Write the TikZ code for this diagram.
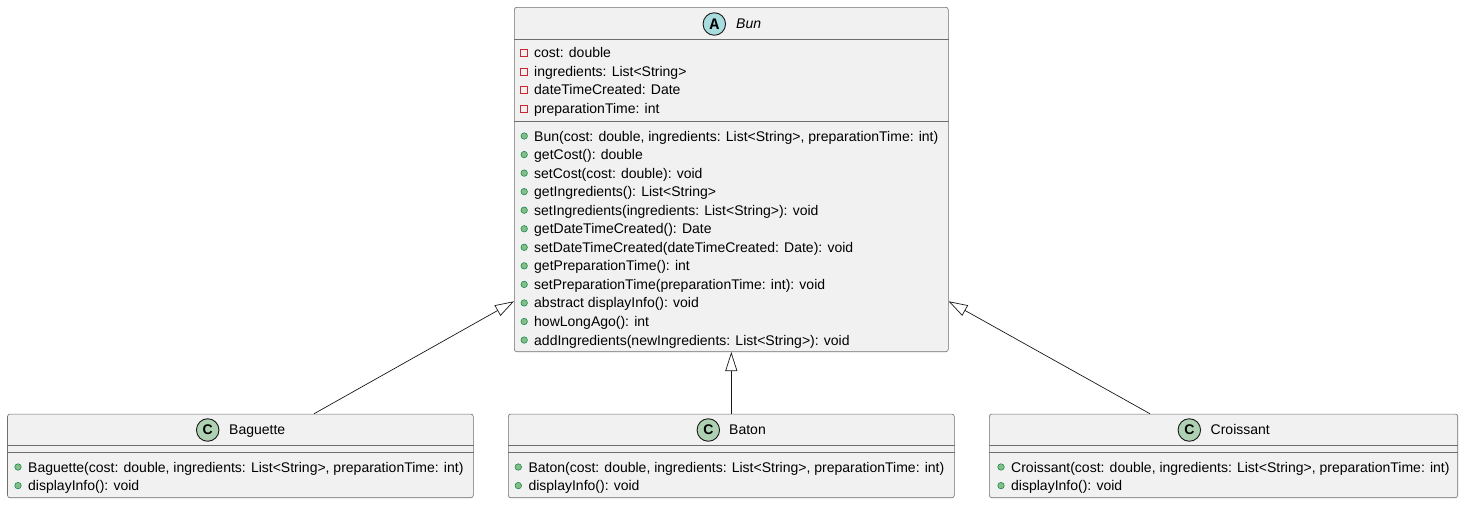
\documentclass[tikz,border=0pt]{standalone}
\usepackage{fontspec}
\setmainfont{Liberation Sans}
\newfontfamily\iconmono{Liberation Mono}
\usetikzlibrary{arrows.meta,positioning}
\definecolor{umlfill}{HTML}{F1F1F1}
\definecolor{umlborder}{HTML}{181818}
\definecolor{boxline}{HTML}{6E6E6E}
\definecolor{absfill}{HTML}{A9DCDF}
\definecolor{clsfill}{HTML}{ADD1B2}
\definecolor{pubfill}{HTML}{84BE84}
\definecolor{pubdraw}{HTML}{038048}
\definecolor{privdraw}{HTML}{C82930}
\tikzstyle{umlclass} = [rectangle, draw=boxline, fill=umlfill, rounded corners=2.5pt, line width=0.6pt, inner sep=0pt]
\tikzstyle{sepline} = [draw=boxline, line width=0.6pt]
\tikzstyle{member} = [anchor=base west, inner sep=0pt, font=\fontsize{14}{16}\selectfont]
\tikzstyle{classname} = [anchor=base west, inner sep=0pt, font=\fontsize{14}{16}\selectfont]
\tikzstyle{pubmark} = [circle, draw=pubdraw, fill=pubfill, minimum size=6.5pt, inner sep=0pt, line width=0.5pt]
\tikzstyle{privmark} = [rectangle, draw=privdraw, minimum size=7pt, inner sep=0pt, line width=1pt]
\tikzstyle{absicon} = [circle, draw=umlborder, fill=absfill, minimum size=22.5pt, inner sep=0pt, line width=0.9pt, font=\iconmono\bfseries\fontsize{16}{16}\selectfont]
\tikzstyle{clsicon} = [circle, draw=umlborder, fill=clsfill, minimum size=22.5pt, inner sep=0pt, line width=0.9pt, font=\bfseries\fontsize{14}{14}\selectfont]
\tikzstyle{extends} = [draw=umlborder, line width=0.7pt, -{Triangle[open, length=19pt, width=12pt]}]

\begin{document}
\begin{tikzpicture}[x=1pt, y=-1pt]
    \useasboundingbox (0,0) rectangle (1464,504);
    \node [umlclass, minimum width=434pt, minimum height=344.4pt] (bun) at (731.3,179.5) {};
    \node [umlclass, minimum width=465.8pt, minimum height=83.7pt] (baguette) at (240.4,455.9) {};
    \node [umlclass, minimum width=446pt, minimum height=83.7pt] (baton) at (731.3,455.9) {};
    \node [umlclass, minimum width=468.4pt, minimum height=83.7pt] (croissant) at (1223.5,455.9) {};
    \path [sepline] ([yshift=-32.3pt]bun.north west) -- ([yshift=-32.3pt]bun.north east);
    \path [sepline] ([yshift=-114.4pt]bun.north west) -- ([yshift=-114.4pt]bun.north east);
    \foreach \cls in {baguette, baton, croissant}{
        \path [sepline] ([yshift=-31.7pt]\cls.north west) -- ([yshift=-31.7pt]\cls.north east);
        \path [sepline] ([yshift=-39pt]\cls.north west) -- ([yshift=-39pt]\cls.north east);
    }
    \node [absicon] (bunicon) at (714.3,24) {A};
    \node [classname, font=\itshape\fontsize{14}{16}\selectfont] (bunname) at (736,28.8) {Bun};
    \node [clsicon] (baguetteicon) at (207.7,430) {C};
    \node [classname] (baguettename) at (229,434.5) {Baguette};
    \node [clsicon] (batonicon) at (708.3,430) {C};
    \node [classname] (batonname) at (729,434.5) {Baton};
    \node [clsicon] (croissanticon) at (1189.3,430) {C};
    \node [classname] (croissantname) at (1210.5,434.5) {Croissant};
    \foreach \txt [count=\i] in {{cost: double}, {ingredients: List<String>}, {dateTimeCreated: Date}, {preparationTime: int}}{
        \node [privmark] (bunfm\i) at (524.2, 57.5+18.5*\i-18.5-4.5) {};
        \node [member] (bunf\i) at (534, 57.5+18.5*\i-18.5) {\txt};
    }
    \foreach \txt [count=\i] in {{Bun(cost: double, ingredients: List<String>, preparationTime: int)}, {getCost(): double}, {setCost(cost: double): void}, {getIngredients(): List<String>}, {setIngredients(ingredients: List<String>): void}, {getDateTimeCreated(): Date}, {setDateTimeCreated(dateTimeCreated: Date): void}, {getPreparationTime(): int}, {setPreparationTime(preparationTime: int): void}, {abstract displayInfo(): void}, {howLongAgo(): int}, {addIngredients(newIngredients: List<String>): void}}{
        \node [pubmark] (bunmm\i) at (524.2, 141+18.55*\i-18.55-5) {};
        \node [member] (bunm\i) at (534, 141+18.55*\i-18.55) {\txt};
    }
    \foreach \cls/\nm/\xm in {baguette/Baguette/18, baton/Baton/518.3, croissant/Croissant/1001}{
        \node [pubmark] (\cls mm1) at (\xm, 467) {};
        \node [member] (\cls m1) at (\xm+10, 472) {\nm(cost: double, ingredients: List<String>, preparationTime: int)};
        \node [pubmark] (\cls mm2) at (\xm, 485.6) {};
        \node [member] (\cls m2) at (\xm+10, 490.6) {displayInfo(): void};
    }
    \path [extends] ([xshift=73.6pt]baguette.north) -- ([yshift=50.7pt]bun.south west);
    \path [extends] (baton.north) -- (bun.south);
    \path [extends] ([xshift=-73.5pt]croissant.north) -- ([yshift=50.7pt]bun.south east);
\end{tikzpicture}
\end{document}
